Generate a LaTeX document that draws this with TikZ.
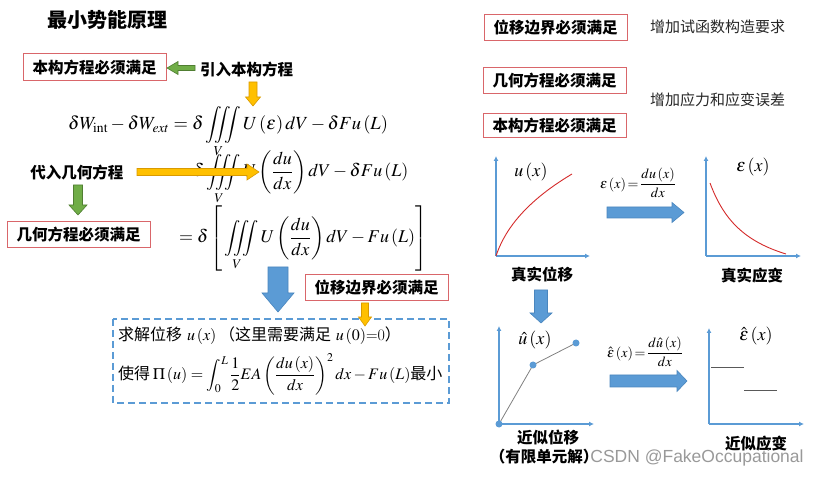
\documentclass[tikz,border=0pt]{standalone}
\usepackage{amsmath}
\usepackage{mathptmx}
\usepackage[no-math]{fontspec}
\newfontfamily\cjk{Noto Sans CJK SC}
\newfontfamily\wmfont{Liberation Sans}
\usetikzlibrary{arrows.meta}
\definecolor{boxred}{HTML}{D9666A}
\definecolor{agreen}{HTML}{70AD47}
\definecolor{agreenD}{HTML}{507E32}
\definecolor{ayel}{HTML}{FFC000}
\definecolor{ayelD}{HTML}{D99A00}
\definecolor{ablue}{HTML}{5B9BD5}
\definecolor{ablueD}{HTML}{4A86BE}
\definecolor{curvered}{HTML}{D42A2A}
\newcommand\hArrow[8]{\filldraw[fill=#1,draw=#2,line width=0.6pt] (#3,#6-#7) -- (#4,#6-#7) -- (#4,#6-#8) -- (#5,#6) -- (#4,#6+#8) -- (#4,#6+#7) -- (#3,#6+#7) -- cycle;}
\newcommand\vArrow[8]{\filldraw[fill=#1,draw=#2,line width=0.6pt] (#6-#7,#3) -- (#6-#7,#4) -- (#6-#8,#4) -- (#6,#5) -- (#6+#8,#4) -- (#6+#7,#4) -- (#6+#7,#3) -- cycle;}
\begin{document}
\begin{tikzpicture}[x=1pt,y=-1pt,
  redbox/.style={draw=boxred, line width=1pt, font=\cjk\bfseries\fontsize{15.5}{18}\selectfont, minimum width=143pt, minimum height=26pt, inner sep=0pt},
  lbl/.style={font=\cjk\bfseries\fontsize{15.5}{18}\selectfont, inner sep=0pt},
  note/.style={font=\cjk\fontsize{15}{18}\selectfont, text=black!85, inner sep=0pt},
  eq/.style={font=\fontsize{18}{21}\selectfont, inner sep=0pt},
  lab/.style={font=\fontsize{18}{21}\selectfont, inner sep=0pt},
  boxtext/.style={font=\fontsize{16}{19}\selectfont, anchor=west, inner sep=0pt},
  smalleq/.style={font=\fontsize{14}{16}\selectfont, inner sep=0pt},
  axis/.style={draw=ablue, line width=1.2pt, -{Latex[length=5pt,width=5pt]}},
  dbox/.style={draw=ablue, line width=1.5pt, dash pattern=on 7pt off 4pt}]
\useasboundingbox (0,0) rectangle (825,478);

% ---------- left part ----------
\node[font=\cjk\bfseries\fontsize{20}{22}\selectfont, inner sep=0pt] (title) at (107,20) {最小势能原理};
\node[redbox, minimum height=27pt] (bk1) at (94.5,67.5) {本构方程必须满足};
\node[lbl] (yr) at (246.5,70) {引入本构方程};

\node[eq, font=\fontsize{18.5}{21}\selectfont, anchor=base west] (eq1) at (68,130) {$\displaystyle \delta W_{\mathrm{int}}-\delta W_{ext}=\delta\iiint\limits_V U\left(\varepsilon\right)dV-\delta Fu\left(L\right)$};
\node[eq, anchor=base west] (eq2) at (193,177) {$\displaystyle \delta\iiint\limits_V U\left(\frac{du}{dx}\right)dV-\delta Fu\left(L\right)$};
\node[eq, anchor=base west] (eq3) at (179,243) {$\displaystyle =\delta\left[\,\iiint\limits_V U\left(\frac{du}{dx}\right)dV-Fu\left(L\right)\right]$};

\node[lbl] (dr) at (77,173) {代入几何方程};
\node[redbox] (jh1) at (78.5,235) {几何方程必须满足};
\node[redbox] (wy1) at (376.5,288) {位移边界必须满足};

\draw[dbox] (113,319) rectangle (449,403);
\node[boxtext] (l1) at (118,336) {{\cjk 求解位移} $u\left(x\right)$\,{\cjk （这里需要满足} $u\left(0\right)${=}0{\cjk ）}};
\node[boxtext] (l2) at (118,374) {{\cjk 使得}\,$\displaystyle\Pi\left(u\right)=\int_0^L\frac{1}{2}EA\left(\frac{du\left(x\right)}{dx}\right)^{2}dx-Fu\left(L\right)${\cjk 最小}};

% arrows left
\hArrow{agreen}{agreenD}{195}{178}{167}{68}{2.5}{6.5}
\vArrow{ayel}{ayelD}{82}{97}{106}{253}{4}{7.5}
\hArrow{ayel}{ayelD}{137}{247}{259}{172}{3.5}{8}
\vArrow{agreen}{agreenD}{185}{205}{215}{78}{4.5}{9}
\vArrow{ablue}{ablueD}{267}{293}{312}{278}{10}{16}
\vArrow{ayel}{ayelD}{303}{317}{326}{365}{3.5}{6.5}

% ---------- right part ----------
\node[redbox] (wy2) at (555.5,28) {位移边界必须满足};
\node[redbox] (jh2) at (554.5,81) {几何方程必须满足};
\node[redbox, minimum height=24pt] (bk2) at (554.5,126) {本构方程必须满足};
\node[note, anchor=west] (n1) at (650,27) {增加试函数构造要求};
\node[note, anchor=west] (n2) at (650,100) {增加应力和应变误差};

% chart 1
\coordinate (o1) at (496,256);
\draw[axis] (o1) -- (496,156);
\draw[axis] (o1) -- (590,256);
\draw[curvered, line width=0.9pt] (o1) .. controls (503,235) and (520,205) .. (572,174);
\node[lab] (u1) at (531,172) {$u\left(x\right)$};
\node[lbl] (t1) at (542,275) {真实位移};

% chart 2
\coordinate (o2) at (706,256);
\draw[axis] (o2) -- (706,156);
\draw[axis] (o2) -- (801,256);
\draw[curvered, line width=0.9pt] (710,183) .. controls (722,215) and (740,240) .. (786,254);
\node[lab] (e1) at (753,167) {$\varepsilon\left(x\right)$};
\node[lbl] (t2) at (752,276) {真实应变};

\node[smalleq] (f1) at (638,183) {$\varepsilon\left(x\right)\!=\!\dfrac{du\left(x\right)}{dx}$};
\hArrow{ablue}{ablueD}{607}{672}{684}{212.5}{5.5}{10}

\vArrow{ablue}{ablueD}{290}{313}{323}{541}{6.5}{11}

% chart 3
\coordinate (o3) at (499,424);
\draw[axis] (o3) -- (499,326);
\draw[axis] (o3) -- (594,424);
\coordinate (p1) at (533,365);
\coordinate (p2) at (576,343);
\draw[gray, line width=0.8pt] (o3) -- (p1) -- (p2);
\fill[ablue] (o3) circle (3.5pt) (p1) circle (3.5pt) (p2) circle (3.5pt);
\node[lab] (u2) at (535,340) {$\hat{u}\left(x\right)$};
\node[lbl] (t3) at (548,438) {近似位移};
\node[lbl] (t3b) at (544,457) {（有限单元解）};

% chart 4
\coordinate (o4) at (709,424);
\draw[axis] (o4) -- (709,328);
\draw[axis] (o4) -- (804,424);
\draw[black!65, line width=0.8pt] (711,367) -- (744,367);
\draw[black!65, line width=0.8pt] (744,390) -- (777,390);
\node[lab] (e2) at (756,336) {$\hat{\varepsilon}\left(x\right)$};
\node[lbl] (t4) at (756,444) {近似应变};

\node[smalleq] (f2) at (645,352) {$\hat{\varepsilon}\left(x\right)\!=\!\dfrac{d\hat{u}\left(x\right)}{dx}$};
\hArrow{ablue}{ablueD}{610}{677}{687}{381}{6}{10.5}

% watermark
\node[font=\wmfont\fontsize{17.5}{20}\selectfont, text=black!40, inner sep=0pt] (wm) at (697,458) {CSDN @FakeOccupational};
\end{tikzpicture}
\end{document}
